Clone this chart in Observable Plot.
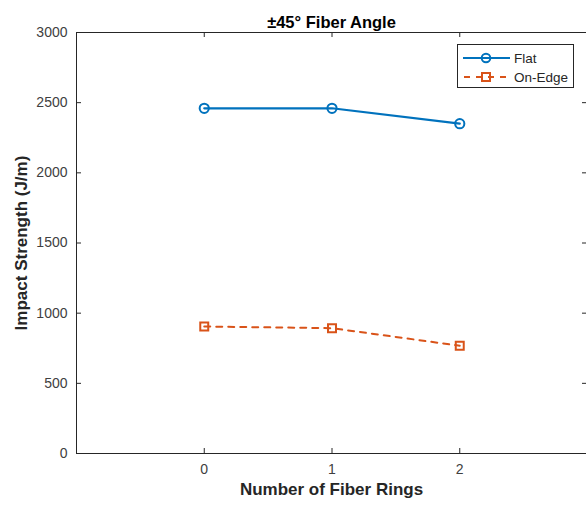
<!DOCTYPE html>
<html>
<head>
<meta charset="utf-8">
<script src="https://cdn.jsdelivr.net/npm/d3@7"></script>
<script src="https://cdn.jsdelivr.net/npm/@observablehq/plot@0.6"></script>
<style>
  html, body { margin: 0; padding: 0; background: #fff; overflow: hidden; }
  #wrap { position: relative; width: 586px; height: 506px; overflow: hidden; font-family: "Liberation Sans", Arial, Helvetica, sans-serif; }
  #legend { position: absolute; left: 457px; top: 44px; width: 117px; height: 44px; border: 1px solid #262626; background: #fff; box-sizing: border-box; }
  #legend svg { position: absolute; left: 0; top: 0; }
</style>
</head>
<body>
<div id="wrap"></div>
<script>
const rings = [0, 1, 2];
const flat = [2460, 2460, 2350];
const onEdge = [905, 893, 768];
const seriesNames = ["Flat", "On-Edge"];
const seriesColors = ["#0072BD", "#D95319"];
const xTicks = [0, 1, 2];
const yTicks = [0, 500, 1000, 1500, 2000, 2500, 3000];
const title = "±45° Fiber Angle";
const xLabel = "Number of Fiber Rings";
const yLabel = "Impact Strength (J/m)";

const rows = [
  ...rings.map((r, i) => ({x: r, y: flat[i], s: seriesNames[0]})),
  ...rings.map((r, i) => ({x: r, y: onEdge[i], s: seriesNames[1]}))
];
const flatRows = rows.filter(d => d.s === seriesNames[0]);
const edgeRows = rows.filter(d => d.s === seriesNames[1]);

const axisColor = "#262626";
const tickLenY = 5 * 3000 / 421;
const tickLenX = 5 * 4 / 511;

const chart = Plot.plot({
  width: 586,
  height: 506,
  marginLeft: 76,
  marginRight: 0,
  marginTop: 32,
  marginBottom: 53,
  style: {fontFamily: "'Liberation Sans', Arial, Helvetica, sans-serif", background: "#fff"},
  x: {domain: [-1, 3], range: [76, 587]},
  y: {domain: [0, 3000], range: [453, 32]},
  marks: [
    // box
    Plot.ruleY([0, 3000], {stroke: axisColor, strokeWidth: 1}),
    Plot.ruleX([-1], {stroke: axisColor, strokeWidth: 1}),
    // inward ticks
    Plot.ruleX(xTicks, {x: d => d, y1: 0, y2: tickLenY, stroke: axisColor}),
    Plot.ruleX(xTicks, {x: d => d, y1: 3000, y2: 3000 - tickLenY, stroke: axisColor}),
    Plot.ruleY(yTicks, {y: d => d, x1: -1, x2: -1 + tickLenX, stroke: axisColor}),
    Plot.ruleY(yTicks, {y: d => d, x1: 3 - tickLenX, x2: 3, stroke: axisColor}),
    Plot.axisX({ticks: xTicks, tickSize: 0, tickPadding: 11, fontSize: 14, color: "#404040", label: null, tickFormat: d => String(d)}),
    Plot.axisY({ticks: yTicks, tickSize: 0, tickPadding: 9, fontSize: 14, color: "#404040", label: null, tickFormat: d => String(d)}),
    // series
    Plot.line(flatRows, {x: "x", y: "y", stroke: seriesColors[0], strokeWidth: 2.2}),
    Plot.dot(flatRows, {x: "x", y: "y", stroke: seriesColors[0], strokeWidth: 2, r: 4.6, fill: "none", symbol: "circle"}),
    Plot.line(edgeRows, {x: "x", y: "y", stroke: seriesColors[1], strokeWidth: 2, strokeDasharray: "6,6"}),
    Plot.dot(edgeRows, {x: "x", y: "y", stroke: seriesColors[1], strokeWidth: 2, r: 4.5, fill: "none", symbol: "square"}),
    // title and labels
    Plot.text([title], {frameAnchor: "top", dy: -16, text: d => d, textAnchor: "middle", fontSize: 16.5, fontWeight: "bold", fill: "#000"}),
    Plot.text([xLabel], {frameAnchor: "bottom", dy: 41, text: d => d, textAnchor: "middle", fontSize: 17, fontWeight: "bold", fill: "#262626"}),
    Plot.text([yLabel], {frameAnchor: "left", dx: -55, rotate: -90, text: d => d, textAnchor: "middle", fontSize: 17, fontWeight: "bold", fill: "#262626"})
  ]
});

const wrap = document.getElementById("wrap");
wrap.appendChild(chart);

// legend
const legend = document.createElement("div");
legend.id = "legend";
const ns = "http://www.w3.org/2000/svg";
const lsvg = document.createElementNS(ns, "svg");
lsvg.setAttribute("width", 117);
lsvg.setAttribute("height", 44);
const entries = [
  {name: seriesNames[0], color: seriesColors[0], dash: null, sym: "circle", y: 13},
  {name: seriesNames[1], color: seriesColors[1], dash: "6,6", sym: "square", y: 32}
];
for (const e of entries) {
  const line = document.createElementNS(ns, "line");
  line.setAttribute("x1", 5); line.setAttribute("x2", 52);
  line.setAttribute("y1", e.y); line.setAttribute("y2", e.y);
  line.setAttribute("stroke", e.color); line.setAttribute("stroke-width", 2);
  if (e.dash) { line.setAttribute("stroke-dasharray", e.dash); line.setAttribute("stroke-dashoffset", "-1"); }
  lsvg.appendChild(line);
  if (e.sym === "circle") {
    const c = document.createElementNS(ns, "circle");
    c.setAttribute("cx", 28); c.setAttribute("cy", e.y); c.setAttribute("r", 4.3);
    c.setAttribute("fill", "none"); c.setAttribute("stroke", e.color); c.setAttribute("stroke-width", 2);
    lsvg.appendChild(c);
  } else {
    const r = document.createElementNS(ns, "rect");
    r.setAttribute("x", 24); r.setAttribute("y", e.y - 4); r.setAttribute("width", 8); r.setAttribute("height", 8);
    r.setAttribute("fill", "none"); r.setAttribute("stroke", e.color); r.setAttribute("stroke-width", 2);
    lsvg.appendChild(r);
  }
  const t = document.createElementNS(ns, "text");
  t.setAttribute("x", 56); t.setAttribute("y", e.y + 5);
  t.setAttribute("font-size", 13.5);
  t.setAttribute("fill", "#262626");
  t.setAttribute("font-family", "'Liberation Sans', Arial, sans-serif");
  t.textContent = e.name;
  lsvg.appendChild(t);
}
legend.appendChild(lsvg);
wrap.appendChild(legend);
</script>
</body>
</html>
